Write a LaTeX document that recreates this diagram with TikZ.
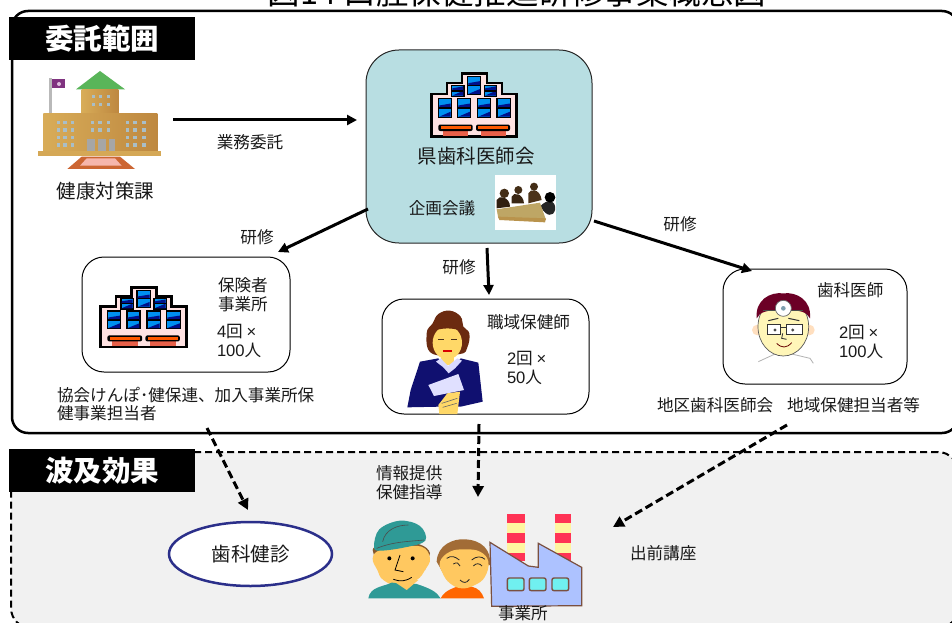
\documentclass[tikz,border=0pt]{standalone}
\usepackage{fontspec}
\setmainfont{Noto Sans CJK JP}
\newfontfamily\latinf{Liberation Sans}
\usetikzlibrary{arrows.meta,shapes.geometric}
\definecolor{tealbox}{HTML}{B8DEE2}
\definecolor{greybg}{HTML}{F1F1F1}
\definecolor{ovalblue}{HTML}{2B2F8A}
\definecolor{tanA}{HTML}{D8AC58}
\definecolor{tanB}{HTML}{BE8840}
\definecolor{winblue}{HTML}{0090F0}
\definecolor{winnavy}{HTML}{00108A}
\definecolor{skinA}{HTML}{FFD868}
\definecolor{hairW}{HTML}{6B2A10}
\definecolor{navyJ}{HTML}{101070}
\definecolor{skinM}{HTML}{FFC860}
\definecolor{capT}{HTML}{2F9A96}
\definecolor{factB}{HTML}{ADC2FF}
\definecolor{chimR}{HTML}{FF3355}
\definecolor{chimY}{HTML}{FFF5A0}
\definecolor{winC}{HTML}{70F0F0}
\definecolor{outB}{HTML}{7A5040}
\newcommand{\fs}[1]{\fontsize{#1}{#1}\selectfont}
\newcommand{\tnum}[1]{{\latinf #1}}
\tikzset{
  frame/.style={draw=black,line width=2.5pt,rounded corners=16pt,inner sep=0pt,outer sep=0pt},
  dashframe/.style={draw=black,fill=greybg,line width=2pt,dash pattern=on 7pt off 4pt,rounded corners=20pt,inner sep=0pt,outer sep=0pt},
  headbar/.style={fill=black,text=white,inner sep=0pt,outer sep=0pt,minimum width=186pt,minimum height=43pt,font=\fs{28.5}\bfseries},
  card/.style={draw=black,line width=1pt,fill=white,rounded corners=22pt,inner sep=0pt,outer sep=0pt},
  lbl/.style={inner sep=0pt,outer sep=0pt,font=\fontsize{16.6}{18.5}\selectfont,align=left,text=black!90},
  lblbig/.style={inner sep=0pt,outer sep=0pt,font=\fs{19.5},text=black!90},
  flow/.style={draw=black,line width=3pt,-{Triangle[length=10pt,width=10pt]}},
  dashflow/.style={draw=black,line width=3pt,dash pattern=on 8pt off 4pt,-{Triangle[length=11pt,width=11pt]}}
}
\newcommand{\bldgwin}[4]{%
  \fill[black] (#1-1.4,#3-1.4) rectangle (#2+1.4,#4+1.4);
  \fill[winblue] (#1,#3) rectangle (#2,#4);
  \fill[winnavy] (#1,#4) -- (#2,#4-5) -- (#2,#4) -- cycle;
  \fill[winnavy] (#1,{(#3+#4)/2-2.5}) -- (#2,{(#3+#4)/2-4.5}) -- (#2,{(#3+#4)/2}) -- (#1,{(#3+#4)/2}) -- cycle;
  \fill[black] (#1,{(#3+#4)/2-0.7}) rectangle (#2,{(#3+#4)/2+0.7});
}
\newcommand{\bldgicon}[4]{%
\begin{scope}[shift={(#1,#2)},xscale=#3,yscale=#4]
  \draw[fill=pink!45!white,line width=2.6pt,line join=miter]
    (1.3,64.7) -- (1.3,22) -- (17,22) -- (17,11) -- (32,11) -- (32,1.3) -- (57,1.3) -- (57,11) -- (72,11) -- (72,22) -- (86.7,22) -- (86.7,64.7) -- cycle;
  \bldgwin{9.3}{20.7}{27.3}{44.7}
  \bldgwin{28.3}{40}{27.3}{44.7}
  \bldgwin{48.3}{60}{27.3}{44.7}
  \bldgwin{67.7}{80}{27.3}{44.7}
  \bldgwin{38.3}{50}{5.3}{22}
  \bldgwin{22.3}{33.3}{14}{23.7}
  \bldgwin{55}{66}{14}{23.7}
  \fill[red!55!brown!80!white] (12.7,58) rectangle (38.3,64);
  \fill[red!55!brown!80!white] (50.7,58) rectangle (76,64);
  \fill[black,rounded corners=2pt] (8.3,52.5) rectangle (42.7,59);
  \fill[black,rounded corners=2pt] (46,52.5) rectangle (80,59);
  \fill[orange!70!red] (10.5,54.3) rectangle (40.5,57);
  \fill[orange!70!red] (48.2,54.3) rectangle (78,57);
\end{scope}}
\begin{document}
\begin{tikzpicture}[x=1pt,y=-1pt]
\useasboundingbox (0,0) rectangle (952,623);
\clip (0,0) rectangle (952,623);
\fill[white] (0,0) rectangle (952,623);

% title, cut by the page edge
\node[inner sep=0pt,font=\fs{32.5},anchor=base] (title) at (517,4.5) {図14 口腔保健推進研修事業概念図};

% frames
\node[frame,minimum width=946pt,minimum height=422pt] (outer) at (485,222) {};
\node[dashframe,minimum width=947pt,minimum height=176pt] (lower) at (484.5,540) {};
\node[headbar] (h1) at (102,39) {委託範囲};
\node[headbar] (h2) at (102,470.5) {波及効果};

% cards
\node[draw=black!85,line width=1pt,fill=tealbox,rounded corners=33pt,inner sep=0pt,outer sep=0pt,minimum width=226pt,minimum height=193pt] (teal) at (479,146.5) {};
\node[card,minimum width=208pt,minimum height=115pt] (box1) at (186,314.5) {};
\node[card,minimum width=207pt,minimum height=115pt] (box2) at (485.5,356.5) {};
\node[card,minimum width=184pt,minimum height=115pt] (box3) at (815,326.5) {};
\node[ellipse,draw=ovalblue,line width=2.5pt,fill=white,inner sep=0pt,outer sep=0pt,minimum width=163pt,minimum height=64pt,font=\fs{19.5},text=black!90] (oval) at (250.5,554) {歯科健診};

% school
\begin{scope}[scale=1/3]
  \fill[gray!55] (146,235) rectangle (155,340);
  \fill[violet!60!gray] (155,238) rectangle (195,265);
  \fill[white!75!violet] (177,252) circle (6);
  \fill[green!55!black!65!white] (228,268) -- (300,213) -- (375,268) -- cycle;
  \shade[left color=tanA,right color=tanB] (245,268) rectangle (355,342);
  \shade[left color=tanA,right color=tanB] (130,342) rectangle (472,455);
  \fill[tanA!90!brown] (114,453) rectangle (484,468);
  \fill[brown!80!red] (202,507) -- (245,470) -- (360,470) -- (405,507) -- cycle;
  \fill[red!25!white!85!brown] (240,497) -- (260,475) -- (345,475) -- (365,497) -- cycle;
  \foreach \xx in {280,302,325}{\foreach \yy in {290,313}{\fill[cyan!25!gray!65] (\xx-5,\yy-5) rectangle (\xx+5,\yy+5);}}
  \foreach \xx in {175,195,218,278,300,325,382,405,432}{\foreach \yy in {367,390}{\fill[cyan!25!gray!65] (\xx-5,\yy-5) rectangle (\xx+5,\yy+5);}}
  \foreach \xx in {175,195,218,382,405,432}{\foreach \yy in {412,435}{\fill[cyan!25!gray!65] (\xx-5,\yy-5) rectangle (\xx+5,\yy+5);}}
  \fill[gray!70] (262,418) rectangle (285,453);
  \fill[gray!70] (295,418) rectangle (318,453);
  \fill[gray!70] (327,418) rectangle (345,453);
\end{scope}

% buildings
\bldgicon{430}{72}{1}{1}
\bldgicon{99}{286}{1.01}{0.94}

% meeting picture
\begin{scope}[shift={(340,0)},scale=1/3]
  \fill[white] (465,525) rectangle (648,690);
  \fill[black!75!brown] (470,600) .. controls (475,585) and (510,590) .. (510,620) -- (470,625) -- cycle;
  \fill[black!70!brown] (515,590) .. controls (520,575) and (550,580) .. (552,610) -- (515,610) -- cycle;
  \fill[black!60!brown] (565,580) .. controls (570,565) and (600,565) .. (605,600) -- (565,610) -- cycle;
  \fill[black!85] (600,620) .. controls (620,595) and (650,600) .. (645,630) .. controls (640,650) and (620,650) .. (605,625) -- cycle;
  \fill[black!65!brown] (493,580) circle (14);
  \fill[black!65!brown] (535,570) circle (12);
  \fill[black!65!brown] (582,560) circle (12);
  \fill[black] (630,592) circle (16);
  \fill[brown!55!olive!70!white] (470,628) -- (600,608) -- (618,660) -- (475,655) -- cycle;
  \fill[brown!70!olive!85!white] (475,650) -- (618,655) -- (615,667) -- (478,660) -- cycle;
\end{scope}

% woman
\begin{scope}[shift={(370,290)},scale=1/3]
  \fill[hairW] plot[smooth cycle,tension=.7] coordinates {(205,72) (240,62) (272,80) (280,110) (298,130) (292,172) (270,192) (185,190) (170,130) (188,100)};
  \fill[skinA] (232,158) ellipse (44 and 50);
  \fill[skinA] (212,195) rectangle (252,225);
  \fill[hairW] (188,125) .. controls (205,100) and (255,100) .. (276,125) .. controls (255,112) and (210,112) .. (188,125) -- cycle;
  \fill[navyJ] (150,215) -- (205,205) -- (235,245) -- (272,205) -- (325,218) -- (338,335) -- (272,350) -- (210,350) -- (112,352) -- (122,300) -- cycle;
  \fill[white!85!blue] (198,215) -- (212,205) -- (234,228) -- (262,205) -- (276,212) -- (255,235) -- (236,250) -- (220,232) -- cycle;
  \fill[white!88!blue] (175,285) -- (265,252) -- (282,300) -- (192,318) -- cycle;
  \fill[skinA] (205,345) -- (232,310) -- (270,305) -- (262,372) -- (208,372) -- cycle;
  \draw[black!60,line width=.6pt] (215,340) -- (262,325) (218,352) -- (260,340);
  \fill[red!85!black] (220,180) rectangle (245,185);
  \fill[black!60!brown] (205,147) rectangle (222,151);
  \fill[black!60!brown] (244,147) rectangle (262,151);
\end{scope}

% dentist
\begin{scope}[shift={(640,250)},scale=1/3]
  \draw[gray!60,line width=.8pt] (355,335) -- (405,312) (455,312) -- (510,325) -- (520,340);
  \fill[orange!25!white] (352,240) circle (16);
  \fill[orange!25!white] (508,240) circle (16);
  \fill[orange!25!yellow!28!white] (430,230) ellipse (76 and 88);
  \draw[black!65,line width=.7pt] (430,230) ellipse (76 and 88);
  \fill[red!50!black!85!blue] (350,205) .. controls (345,150) and (390,125) .. (430,130) .. controls (470,125) and (515,150) .. (510,205) .. controls (500,185) and (480,180) .. (430,180) .. controls (380,180) and (360,185) .. (350,205) -- cycle;
  \draw[black!70,line width=1pt] (370,180) -- (490,180);
  \draw[fill=white,line width=.7pt,draw=black!60] (430,175) circle (24);
  \fill[gray!70!cyan] (430,175) circle (7);
  \draw[black!80,line width=.9pt,fill=white] (382,222) rectangle (422,252);
  \draw[black!80,line width=.9pt,fill=white] (440,222) rectangle (486,252);
  \draw[black!80,line width=.9pt] (422,232) -- (440,232);
  \fill[black!70] (405,240) circle (5);
  \fill[black!70] (458,240) circle (5);
  \draw[black!80,line width=1pt] (385,212) -- (415,205) (445,205) -- (478,212);
  \draw[black!80,line width=.8pt] (428,250) -- (425,265) -- (440,268);
  \draw[red!40!black,line width=.8pt] (410,280) .. controls (425,295) and (440,295) .. (455,278);
\end{scope}

% workers and factory
\begin{scope}[shift={(350,490)},scale=1/3]
  \fill[brown!70!black] (68,180) .. controls (68,150) and (230,140) .. (240,190) -- (225,240) -- (80,230) -- cycle;
  \fill[skinM] plot[smooth cycle,tension=.7] coordinates {(68,205) (90,180) (150,172) (215,170) (240,205) (225,240) (200,270) (150,290) (100,270) (82,240)};
  \fill[capT] (55,325) .. controls (60,290) and (100,290) .. (125,278) -- (200,282) .. controls (240,295) and (260,305) .. (272,325) -- cycle;
  \fill[skinM] (125,270) -- (205,270) -- (170,300) -- cycle;
  \fill[capT] plot[smooth cycle,tension=.6] coordinates {(72,170) (88,118) (150,92) (210,108) (226,152) (165,172) (90,182)};
  \draw[black!70,line width=.6pt] (98,155) .. controls (105,120) and (140,105) .. (175,105) (80,175) .. controls (130,155) and (170,155) .. (222,150);
  \fill[black] (118,205) circle (6);
  \fill[black] (188,205) circle (6);
  \draw[black,line width=.8pt] (150,195) -- (135,240) -- (160,245) (130,268) .. controls (150,275) and (165,275) .. (185,262);
  \fill[orange!80!red] (272,325) .. controls (285,300) and (310,295) .. (320,290) -- (365,290) .. controls (385,295) and (395,305) .. (402,325) -- cycle;
  \fill[brown!85!black] (260,215) .. controls (262,165) and (310,145) .. (345,148) .. controls (395,150) and (425,180) .. (420,225) -- (280,250) -- cycle;
  \fill[skinM] plot[smooth cycle,tension=.7] coordinates {(270,215) (300,185) (345,178) (390,185) (415,215) (405,260) (375,285) (335,295) (300,280) (278,250)};
  \draw[black!85,line width=.8pt] (290,205) .. controls (305,195) and (315,200) .. (328,210) (365,210) .. controls (378,198) and (395,198) .. (405,208) (310,222) .. controls (320,215) and (328,220) .. (330,228) (370,228) .. controls (378,218) and (390,220) .. (396,228) (330,270) .. controls (340,280) and (350,280) .. (358,268);
  % chimneys
  \foreach \cx/\cw in {470/55,615/47}{
    \fill[chimR] (\cx,72) rectangle (\cx+\cw,212);
    \fill[chimY] (\cx,100) rectangle (\cx+\cw,128);
    \fill[chimY] (\cx,158) rectangle (\cx+\cw,188);
  }
  \draw[fill=factB,draw=outB,line width=1.2pt] (420,157) -- (535,228) -- (565,232) -- (565,160) -- (695,232) -- (695,347) -- (425,349) -- cycle;
  \foreach \wx in {472,538,606}{
    \draw[fill=winC,draw=outB,line width=1.4pt,rounded corners=2pt] (\wx,264) rectangle (\wx+50,302);
  }
\end{scope}

% labels
\node[lbl,anchor=center] (t1) at (250,142) {業務委託};
\node[lblbig,anchor=center] (t2) at (105.5,191) {健康対策課};
\node[lblbig,anchor=center] (t3) at (476,156) {県歯科医師会};
\node[lbl,anchor=center] (t4) at (442,208) {企画会議};
\node[lbl,anchor=center] (t5) at (257,237) {研修};
\node[lbl,anchor=center] (t6) at (459,267) {研修};
\node[lbl,anchor=center] (t7) at (680,224) {研修};
\node[lbl,anchor=west] (t8) at (218,294.5) {保険者\\事業所};
\node[lbl,anchor=west] (t9) at (217,341) {\tnum{4}回 \tnum{×}\\\tnum{100}人};
\node[lbl,anchor=west] (cap1) at (57,404) {協会けんぽ･健保連、加入事業所保\\健事業担当者};
\node[lbl,anchor=west] (t10) at (487,322) {職域保健師};
\node[lbl,anchor=west] (t11) at (507,368) {\tnum{2}回 \tnum{×}\\\tnum{50}人};
\node[lbl,anchor=west] (t12) at (817,290) {歯科医師};
\node[lbl,anchor=west] (t13) at (839,342) {\tnum{2}回 \tnum{×}\\\tnum{100}人};
\node[lbl,anchor=west] (cap3) at (657,405) {地区歯科医師会\hspace{14pt}地域保健担当者等};
\node[lbl,anchor=west] (t14) at (376,482.5) {情報提供\\保健指導};
\node[lbl,anchor=west] (t15) at (630,553) {出前講座};
\node[lbl,anchor=west] (t16) at (498,613) {事業所};

% connectors
\coordinate (schoolout) at (173,120);
\coordinate (cap1out) at (207,428);
\coordinate (box2out) at (479,424);
\coordinate (sitein) at (478,497);
\coordinate (cap3out) at (787,425);
\coordinate (lecturein) at (613,527);
\draw[flow] (schoolout) -- ([shift={(-9,-26.5)}]teal.west);
\draw[flow] ([shift={(2,62.5)}]teal.west) -- ([shift={(92,-5)}]box1.north);
\draw[flow] ([shift={(8,5)}]teal.south) -- ([shift={(3.5,-4)}]box2.north);
\draw[flow] ([shift={(2,74.5)}]teal.east) -- ([shift={(-63,2)}]box3.north);
\draw[dashflow] (cap1out) -- ([shift={(-2.5,-12)}]oval.north);
\draw[dashflow] (box2out) -- (sitein);
\draw[dashflow] (cap3out) -- (lecturein);
\end{tikzpicture}
\end{document}
